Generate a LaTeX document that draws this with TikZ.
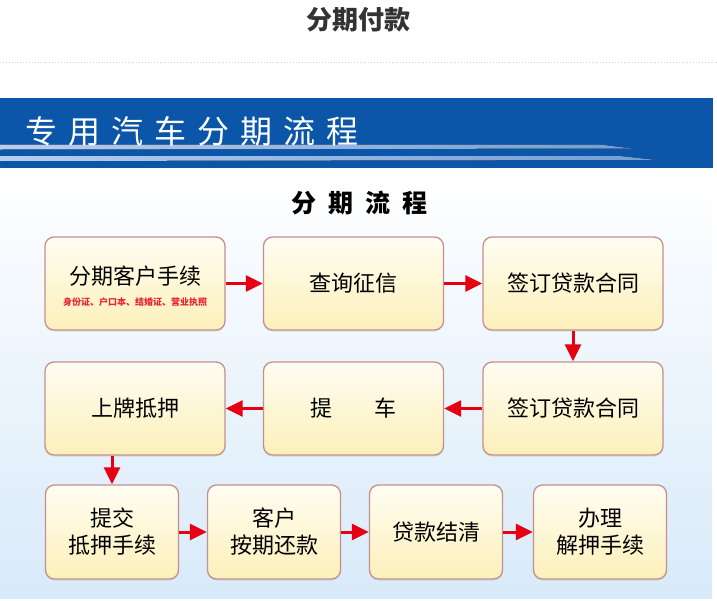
\documentclass[tikz,border=0pt]{standalone}
\usepackage{fontspec}
\setmainfont{Noto Sans CJK SC}
\usetikzlibrary{arrows.meta,shadows}
\definecolor{banner}{HTML}{0B56A8}
\definecolor{streak}{HTML}{B8CEEE}
\definecolor{bgblue}{HTML}{D8EAF9}
\definecolor{boxline}{HTML}{C4908E}
\definecolor{boxtop}{HTML}{FFFDF2}
\definecolor{boxbot}{HTML}{FCF0BA}
\definecolor{arrowred}{HTML}{E60012}
\definecolor{subred}{HTML}{E8262D}
\definecolor{titlegray}{HTML}{333333}
\tikzset{
  stepbox/.style={draw=boxline, line width=1.3pt, rounded corners=9pt,
    top color=boxtop, bottom color=boxbot, align=center, inner sep=0pt,
    font=\fontsize{22}{27}\selectfont,
    drop shadow={shadow xshift=0pt, shadow yshift=-1.5pt, opacity=0.18, fill=gray}},
  widebox/.style={stepbox, minimum width=180pt, minimum height=93pt},
  narrowbox/.style={stepbox, minimum width=133pt, minimum height=94pt},
  flow/.style={draw=arrowred, line width=3pt, -{Triangle[length=17pt,width=16pt]}},
}
\newcommand{\gapch}[1]{\hspace{#1}}
\begin{document}
\begin{tikzpicture}[x=1pt,y=-1pt]
\useasboundingbox (0,0) rectangle (717,600);
\fill[white] (0,0) rectangle (717,600);
% title
\node[font=\fontsize{26}{30}\selectfont\bfseries, text=titlegray] (title) at (358,20) {分期付款};
\draw[gray!35, dotted, line width=0.9pt] (0,62) -- (717,62);
% lower background
\fill[top color=white, bottom color=bgblue] (0,168) rectangle (712,598);
% banner
\fill[banner] (0,98) rectangle (713,168);
\fill[left color=streak, right color=streak!60!banner] (0,144.5) -- (600,144.5) -- (632,148.5) -- (0,149.5) -- cycle;
\fill[left color=streak, right color=streak!60!banner] (0,156) -- (620,156) -- (656,160) -- (0,161) -- cycle;
\node[font=\fontsize{32}{36}\selectfont, text=white, inner sep=0pt] (bannertext) at (192,131)
  {专\gapch{11pt}用\gapch{11pt}汽\gapch{11pt}车\gapch{11pt}分\gapch{11pt}期\gapch{11pt}流\gapch{11pt}程};
\node[font=\fontsize{25}{30}\selectfont\bfseries, text=black, inner sep=0pt] (heading) at (359,203)
  {分\gapch{12pt}期\gapch{12pt}流\gapch{12pt}程};
% row 1
\node[widebox] (a1) at (135,283.5) {};
\node[font=\fontsize{22}{27}\selectfont] (a1t) at (135,276) {分期客户手续};
\node[font=\fontsize{9}{11}\selectfont\bfseries, text=subred] (a1s) at (135,302) {身份证、户口本、结婚证、营业执照};
\node[widebox] (a2) at (353.5,283.5) {查询征信};
\node[widebox] (a3) at (573,283.5) {签订贷款合同};
% row 2
\node[widebox] (b1) at (135,408.5) {上牌抵押};
\node[widebox] (b2) at (353.5,408.5) {提\hspace{1.9em}车};
\node[widebox] (b3) at (573,408.5) {签订贷款合同};
% row 3
\node[narrowbox] (c1) at (112,532) {提交\\抵押手续};
\node[narrowbox] (c2) at (274,532) {客户\\按期还款};
\node[narrowbox] (c3) at (436,532) {贷款结清};
\node[narrowbox] (c4) at (600,532) {办理\\解押手续};
% arrows
\draw[flow] (a1.east) -- (a2.west);
\draw[flow] (a2.east) -- (a3.west);
\draw[flow] (a3.south) -- (b3.north);
\draw[flow] (b3.west) -- (b2.east);
\draw[flow] (b2.west) -- (b1.east);
\draw[flow] (b1.south -| c1.north) -- (c1.north);
\draw[flow] (c1.east) -- (c2.west);
\draw[flow] (c2.east) -- (c3.west);
\draw[flow] (c3.east) -- (c4.west);
\end{tikzpicture}
\end{document}
